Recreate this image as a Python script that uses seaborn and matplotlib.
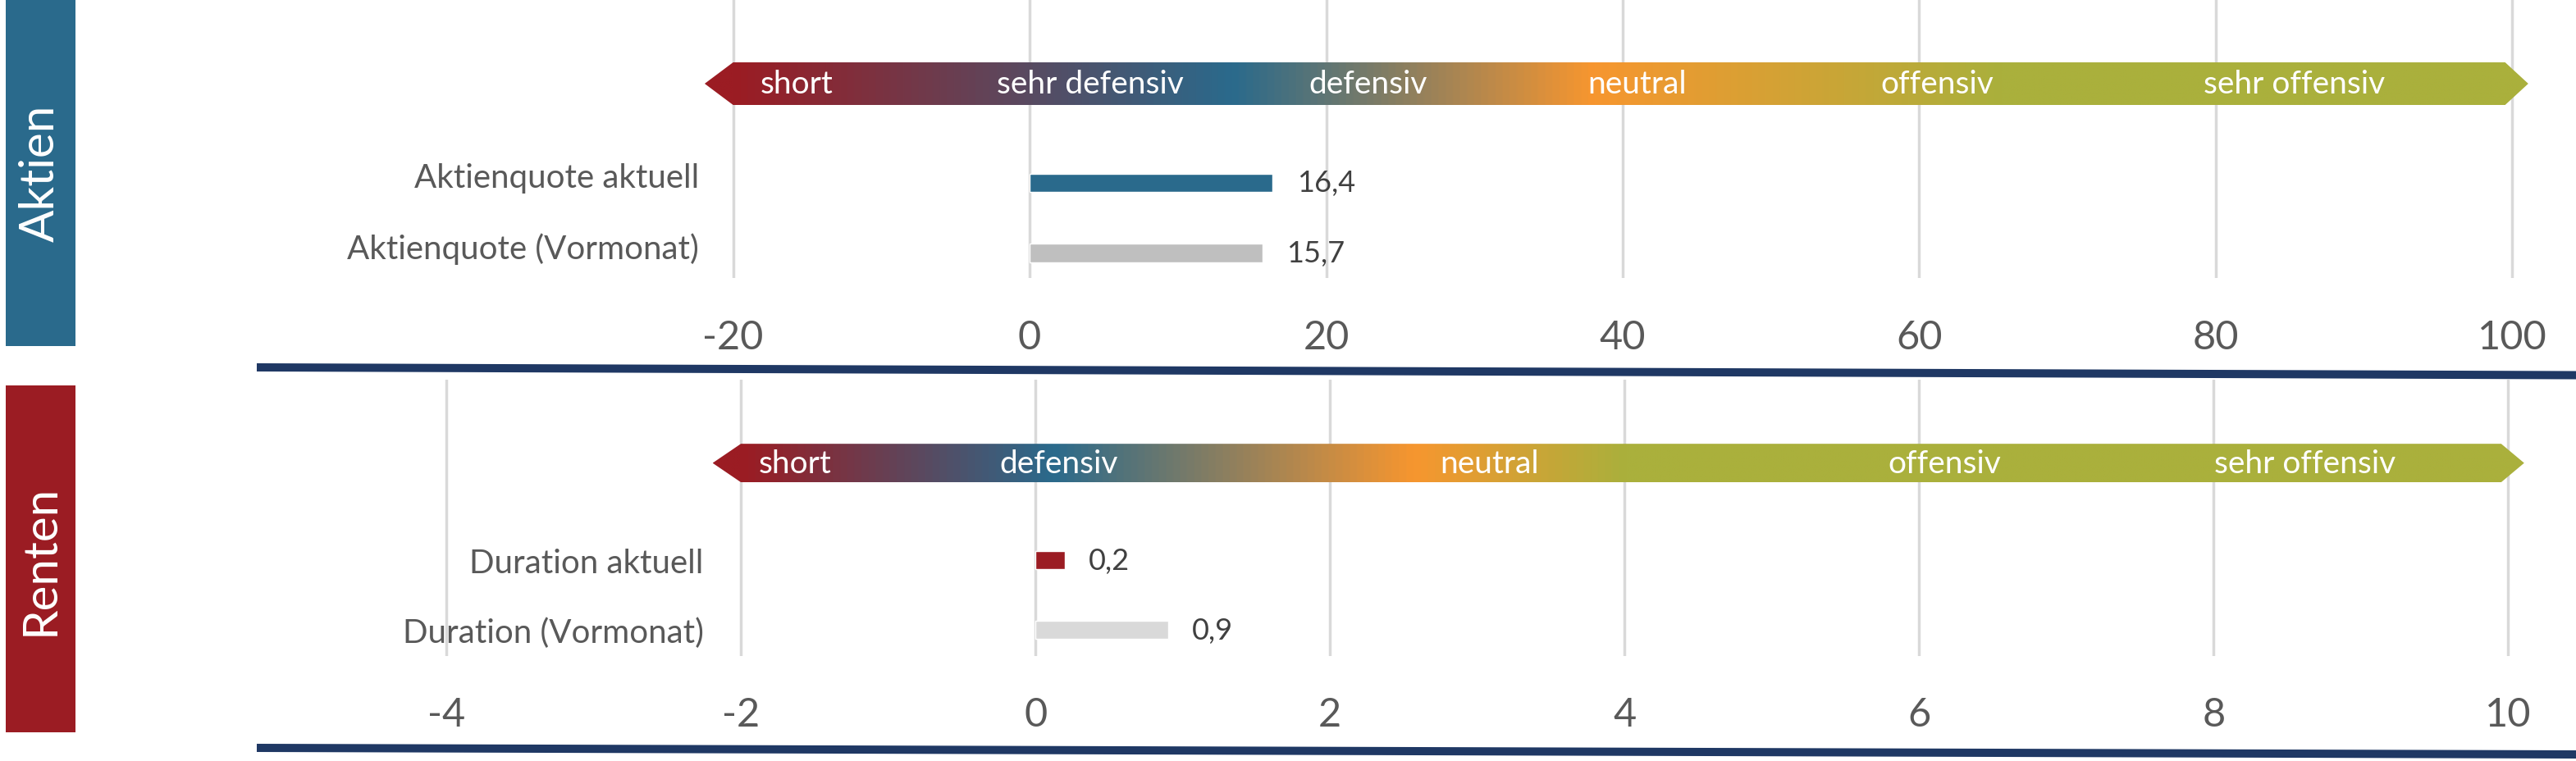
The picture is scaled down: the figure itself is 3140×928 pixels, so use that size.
import numpy as np
import matplotlib
matplotlib.use("Agg")
import matplotlib.pyplot as plt
import matplotlib.transforms as mtransforms
import seaborn as sns
from matplotlib.colors import LinearSegmentedColormap
from matplotlib.patches import Polygon, Rectangle
from matplotlib.lines import Line2D

# ---------- data ----------
aktien_labels = ["Aktienquote aktuell", "Aktienquote (Vormonat)"]
aktien_values = [16.4, 15.7]
aktien_ticks = [-20, 0, 20, 40, 60, 80, 100]
aktien_band = (-20, 100)
aktien_zones = ["short", "sehr defensiv", "defensiv", "neutral", "offensiv", "sehr offensiv"]
aktien_zone_pos = [-15.7, 4.1, 22.8, 41.0, 61.2, 85.3]

renten_labels = ["Duration aktuell", "Duration (Vormonat)"]
renten_values = [0.2, 0.9]
renten_ticks = [-4, -2, 0, 2, 4, 6, 8, 10]
renten_band = (-2, 10)
renten_zones = ["short", "defensiv", "neutral", "offensiv", "sehr offensiv"]
renten_zone_pos = [-1.63, 0.16, 3.08, 6.17, 8.62]

# ---------- colours ----------
BLUE = "#2a6a8c"
RED = "#9b1c23"
ORANGE = "#f7962f"
OLIVE = "#aab03c"
NAVY = "#1f3864"
GRID = "#d9d9d9"
TXT = "#595959"

aktien_stops = [(0.0, RED), (0.28, BLUE), (0.483, ORANGE), (0.713, OLIVE), (1.0, OLIVE)]
renten_stops = [(0.0, RED), (0.175, BLUE), (0.38, ORANGE), (0.5, OLIVE), (1.0, OLIVE)]

sns.set_theme(style="white")
plt.rcParams["font.family"] = ["Lato", "DejaVu Sans"]
plt.rcParams["axes.unicode_minus"] = False

W, H = 3140, 929
fig = plt.figure(figsize=(W / 100, H / 100), dpi=100)


def fig_rect(x0, y0, x1, y1):
    # pixel box measured from the top left -> figure fraction rect
    return [x0 / W, 1 - y1 / H, (x1 - x0) / W, (y1 - y0) / H]


def draw_band(ax, band, yc, half, stops, zones, zone_pos):
    lo, hi = band
    r = hi - lo
    body_l, body_r = lo, hi - 0.004 * r
    tip_l, tip_r = lo - 0.016 * r, hi + 0.009 * r
    verts = [(tip_l, yc), (body_l, yc - half), (body_r, yc - half),
             (tip_r, yc), (body_r, yc + half), (body_l, yc + half)]
    poly = Polygon(verts, closed=True, facecolor="none", edgecolor="none")
    ax.add_patch(poly)
    span = tip_r - tip_l
    rel = [((lo + f * r - tip_l) / span, c) for f, c in stops]
    rel = [(0.0, rel[0][1])] + rel + [(1.0, rel[-1][1])]
    rel = sorted({round(p, 4): c for p, c in rel}.items())
    cmap = LinearSegmentedColormap.from_list("band", rel)
    grad = np.linspace(0, 1, 1024)[None, :]
    im = ax.imshow(grad, cmap=cmap, aspect="auto", interpolation="bilinear",
                   extent=(tip_l, tip_r, yc + half, yc - half), zorder=1)
    im.set_clip_path(poly)
    for name, x in zip(zones, zone_pos):
        ax.text(x, yc, name, color="white", fontsize=28, ha="center",
                va="center", zorder=3)


def draw_panel(ax, labels, values, colors, ticks, band, stops, zones, zone_pos,
               xlim, ylim, band_y, band_half, label_pad, tick_pad, label_lift=0):
    sns.barplot(x=values, y=labels, hue=labels, palette=colors, orient="h",
                width=0.26, saturation=1, legend=False, ax=ax)
    for cont in ax.containers:
        ax.bar_label(cont, fmt=lambda v: f"{v:.1f}".replace(".", ","),
                     padding=21, fontsize=26, color="#404040")
    draw_band(ax, band, band_y, band_half, stops, zones, zone_pos)

    ax.set_xlim(*xlim)
    ax.set_ylim(*ylim)
    ax.set_xticks(ticks)
    ax.set(xlabel=None, ylabel=None)
    ax.set_axisbelow(True)
    ax.xaxis.grid(True, color=GRID, linewidth=2.5)
    ax.yaxis.grid(False)
    for s in ax.spines.values():
        s.set_visible(False)
    ax.tick_params(axis="x", length=0, pad=tick_pad, labelsize=35, labelcolor=TXT)
    ax.tick_params(axis="y", length=0, pad=label_pad, labelsize=29, labelcolor=TXT)
    if label_lift:
        shift = mtransforms.ScaledTranslation(0, label_lift / 72, fig.dpi_scale_trans)
        for lab in ax.get_yticklabels():
            lab.set_transform(lab.get_transform() + shift)
    ax.patch.set_alpha(0)


ax_top = fig.add_axes(fig_rect(313, 0, 3140, 340))
draw_panel(ax_top, aktien_labels, aktien_values, [BLUE, "#bfbfbf"], aktien_ticks,
           aktien_band, aktien_stops, aktien_zones, aktien_zone_pos,
           xlim=(-52.13, 104.3), ylim=(1.357, -2.62), band_y=-1.415, band_half=0.304,
           label_pad=-388, tick_pad=36, label_lift=7)

ax_bot = fig.add_axes(fig_rect(313, 464, 3140, 801))
draw_panel(ax_bot, renten_labels, renten_values, [RED, "#d9d9d9"], renten_ticks,
           renten_band, renten_stops, renten_zones, renten_zone_pos,
           xlim=(-5.287, 10.46), ylim=(1.376, -2.59), band_y=-1.394, band_half=0.276,
           label_pad=-392, tick_pad=35)

# side boxes with section names
for (y0, y1), name, col in [((0, 423), "Aktien", BLUE), ((471, 894), "Renten", RED)]:
    x, y, w, h = fig_rect(7, y0, 92, y1)
    fig.add_artist(Rectangle((x, y), w, h, transform=fig.transFigure,
                             facecolor=col, edgecolor="none"))
    fig.text(x + w / 2, y + h / 2, name, rotation=90, color="white", fontsize=42,
             ha="center", va="center")

# navy separator lines under each panel
for yl, yr in [(449, 458.5), (913, 921)]:
    fig.add_artist(Line2D([313 / W, 1.0], [1 - yl / H, 1 - yr / H], color=NAVY,
                          linewidth=7.2, solid_capstyle="butt",
                          transform=fig.transFigure))

fig.savefig("out.png", dpi=100)
